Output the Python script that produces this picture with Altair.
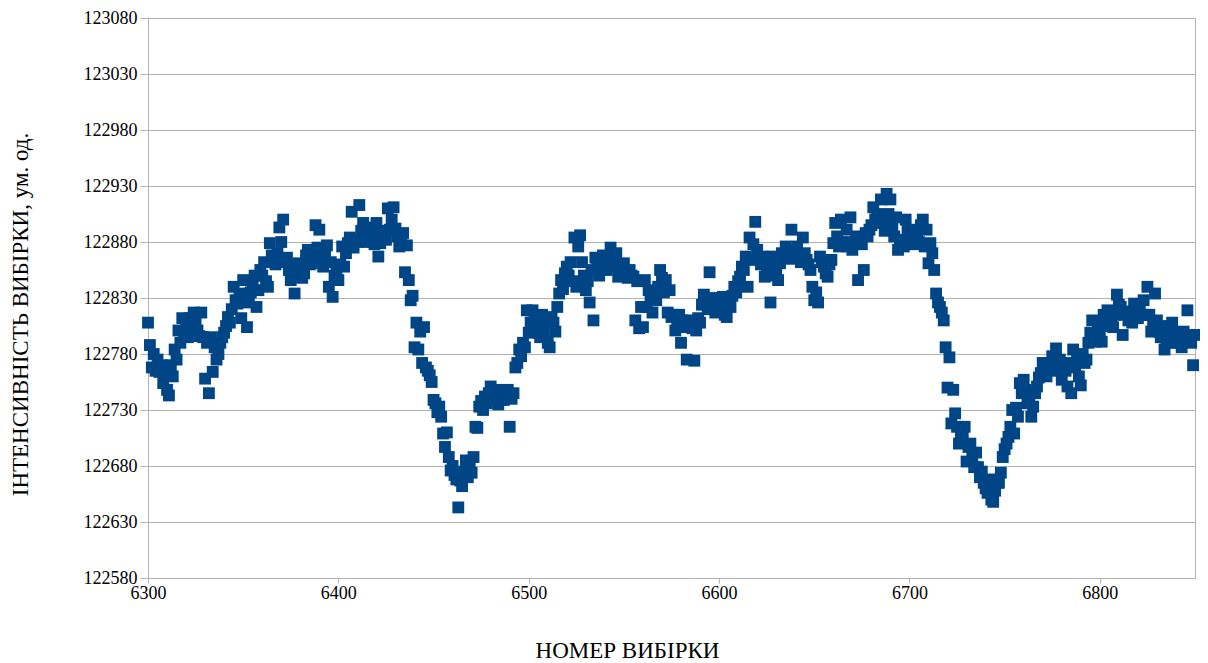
import altair as alt
import pandas as pd

# sample numbers start at 6300, one value per sample
x_start = 6300
intensity = [
    122808, 122788, 122768, 122780, 122765, 122775, 122764, 122770, 122754, 122762,
    122748, 122743, 122770, 122760, 122784, 122775, 122801, 122790, 122812, 122798,
    122808, 122795, 122812, 122805, 122817, 122810, 122801, 122796, 122817, 122795,
    122758, 122790, 122745, 122795, 122764, 122786, 122775, 122780, 122790, 122795,
    122799, 122805, 122813, 122808, 122820, 122840, 122828, 122825, 122833, 122812,
    122846, 122834, 122804, 122826, 122835, 122842, 122850, 122822, 122837, 122855,
    122850, 122862, 122845, 122840, 122879, 122868, 122864, 122860, 122870, 122893,
    122880, 122900, 122862, 122866, 122855, 122846, 122858, 122834, 122850, 122861,
    122855, 122848, 122852, 122868, 122873, 122860, 122861, 122870, 122895, 122875,
    122891, 122865, 122858, 122870, 122877, 122840, 122862, 122831, 122850, 122855,
    122846, 122860, 122876, 122858, 122870, 122879, 122884, 122907, 122875, 122882,
    122880, 122913, 122890, 122897, 122885, 122880, 122888, 122893, 122886, 122878,
    122897, 122867, 122879, 122890, 122885, 122882, 122910, 122891, 122900, 122911,
    122892, 122885, 122876, 122880, 122888, 122853, 122877, 122846, 122828, 122832,
    122786, 122808, 122784, 122800, 122772, 122804, 122768, 122765, 122761, 122755,
    122739, 122736, 122728, 122733, 122724, 122709, 122697, 122710, 122688, 122676,
    122680, 122672, 122668, 122643, 122667, 122662, 122675, 122685, 122670, 122678,
    122674, 122688, 122715, 122714, 122733, 122738, 122730, 122742, 122736, 122745,
    122751, 122740, 122745, 122748, 122735, 122739, 122744, 122739, 122742, 122748,
    122715, 122740, 122745, 122768, 122772, 122784, 122778, 122790, 122786, 122819,
    122799, 122808, 122819, 122812, 122805, 122799, 122795, 122815, 122799, 122808,
    122790, 122786, 122813, 122808, 122800, 122822, 122834, 122846, 122838, 122852,
    122858, 122850, 122862, 122845, 122884, 122840, 122876, 122886, 122862, 122850,
    122837, 122845, 122826, 122855, 122810, 122866, 122858, 122850, 122862, 122868,
    122860, 122855, 122865, 122875, 122862, 122858, 122870, 122849, 122858, 122855,
    122861, 122852, 122848, 122855, 122850, 122849, 122810, 122845, 122803, 122822,
    122804, 122846, 122822, 122837, 122828, 122817, 122834, 122828, 122840, 122855,
    122848, 122835, 122846, 122817, 122837, 122813, 122815, 122801, 122810, 122815,
    122790, 122810, 122804, 122775, 122810, 122806, 122803, 122774, 122801, 122812,
    122808, 122824, 122833, 122828, 122820, 122853, 122822, 122830, 122817, 122826,
    122830, 122820, 122831, 122815, 122813, 122826, 122822, 122832, 122840, 122835,
    122845, 122849, 122858, 122855, 122867, 122840, 122884, 122864, 122878, 122898,
    122873, 122866, 122860, 122867, 122849, 122858, 122850, 122826, 122867, 122860,
    122855, 122846, 122861, 122870, 122866, 122876, 122870, 122865, 122891, 122866,
    122872, 122876, 122868, 122862, 122884, 122870, 122864, 122860, 122855, 122840,
    122828, 122835, 122826, 122867, 122862, 122858, 122852, 122849, 122860, 122864,
    122879, 122897, 122885, 122876, 122900, 122880, 122878, 122891, 122876, 122902,
    122873, 122880, 122885, 122846, 122882, 122878, 122855, 122888, 122885, 122891,
    122895, 122911, 122900, 122905, 122898, 122918, 122897, 122890, 122923, 122905,
    122918, 122895, 122885, 122902, 122873, 122882, 122880, 122876, 122900, 122890,
    122891, 122885, 122878, 122882, 122888, 122880, 122895, 122900, 122876, 122891,
    122861, 122879, 122870, 122855, 122834, 122826, 122822, 122817, 122810, 122786,
    122750, 122777, 122718, 122748, 122727, 122715, 122700, 122709, 122705, 122715,
    122684, 122697, 122700, 122688, 122679, 122692, 122679, 122670, 122675, 122665,
    122660, 122656, 122668, 122650, 122648, 122658, 122665, 122665, 122674, 122688,
    122695, 122700, 122706, 122715, 122730, 122709, 122732, 122724, 122754, 122745,
    122757, 122748, 122736, 122739, 122724, 122733, 122745, 122751, 122759, 122763,
    122772, 122768, 122760, 122772, 122765, 122778, 122770, 122785, 122766, 122775,
    122757, 122770, 122765, 122751, 122772, 122745, 122784, 122768, 122775, 122760,
    122752, 122780, 122772, 122775, 122790, 122799, 122810, 122795, 122791, 122806,
    122800, 122791, 122815, 122805, 122819, 122812, 122808, 122804, 122815, 122833,
    122824, 122822, 122797, 122815, 122818, 122810, 122813, 122808, 122825, 122818,
    122812, 122820, 122815, 122828, 122815, 122840, 122815, 122800, 122808, 122834,
    122810, 122800, 122795, 122805, 122784, 122790, 122800, 122795, 122808, 122790,
    122799, 122795, 122790, 122786, 122800, 122795, 122819, 122795, 122790, 122770,
    122797,
]

x_ticks = [6300, 6400, 6500, 6600, 6700, 6800]
y_ticks = [122580, 122630, 122680, 122730, 122780, 122830, 122880,
           122930, 122980, 123030, 123080]

df = pd.DataFrame({
    "sample": list(range(x_start, x_start + len(intensity))),
    "value": intensity,
})

FONT = "Liberation Serif"
GRID = "#b3b3b3"

chart = (
    alt.Chart(df)
    .mark_point(shape="square", filled=True, size=140, color="#004586", opacity=1)
    .encode(
        x=alt.X(
            "sample:Q",
            scale=alt.Scale(domain=[6300, 6850], nice=False, zero=False),
            axis=alt.Axis(
                title="НОМЕР ВИБІРКИ",
                values=x_ticks,
                format="d",
                grid=False,
                labelFlush=False,
                tickSize=5,
                tickColor=GRID,
                domainColor=GRID,
                labelPadding=1,
                labelFontSize=18,
                labelFont=FONT,
                labelColor="#000000",
                titleFont=FONT,
                titleFontSize=23,
                titleFontWeight="normal",
                titleColor="#000000",
                titleX=479,
                titleY=72,
                titleAlign="center",
                titleBaseline="middle",
            ),
        ),
        y=alt.Y(
            "value:Q",
            scale=alt.Scale(domain=[122580, 123080], nice=False, zero=False),
            axis=alt.Axis(
                title="ІНТЕНСИВНІСТЬ ВИБІРКИ, ум. од.",
                values=y_ticks,
                format="d",
                grid=True,
                gridColor=GRID,
                gridWidth=1,
                labelFlush=False,
                tickSize=8,
                tickColor=GRID,
                domainColor=GRID,
                labelPadding=3,
                labelFontSize=18,
                labelFont=FONT,
                labelColor="#000000",
                titleFont=FONT,
                titleFontSize=23,
                titleFontWeight="normal",
                titleColor="#000000",
                titleAngle=-90,
                titleX=-128,
                titleY=296,
                titleAlign="center",
                titleBaseline="middle",
            ),
        ),
    )
    .properties(
        width=1047,
        height=560,
        padding={"left": 140, "top": 10, "right": 5, "bottom": 85},
        autosize=alt.AutoSizeParams(type="none"),
    )
    .configure(background="#ffffff", font=FONT)
    .configure_axis(labelFont=FONT, titleFont=FONT)
    .configure_view(stroke=GRID, strokeWidth=1)
)

chart.save("out.html", embed_options={"renderer": "svg", "actions": False})
